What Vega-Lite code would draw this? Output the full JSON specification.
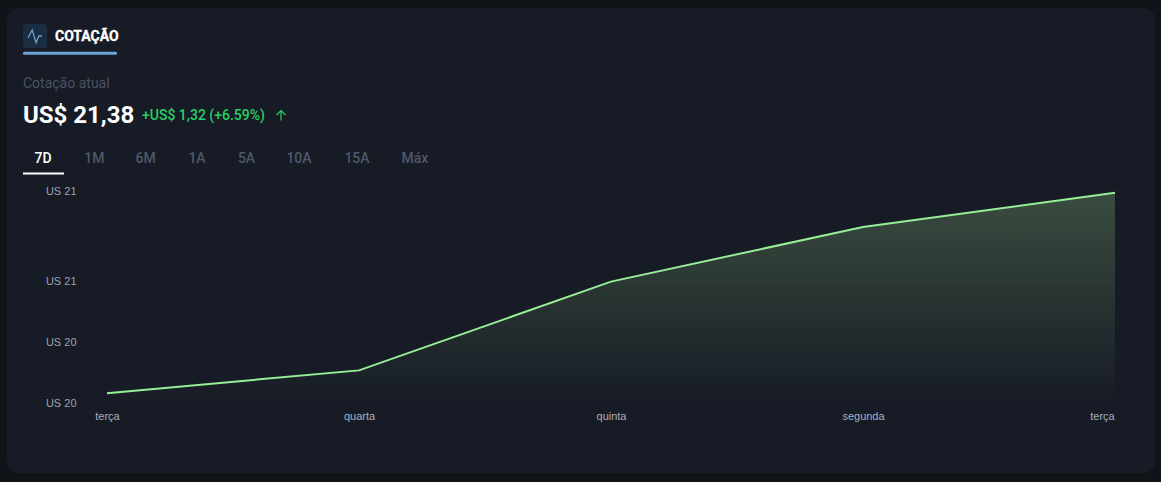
{"$schema":"https://vega.github.io/schema/vega-lite/v6.json","width":1148,"height":465,"autosize":"none","padding":{"left":7,"top":8,"right":6,"bottom":9},"background":"#101317","config":{"view":{"fill":"#171b25","stroke":null,"cornerRadius":12},"text":{"font":"Roboto"}},"resolve":{"scale":{"x":"independent","y":"independent"}},"layer":[
{"layer":[
{"data":{"values":[{"nivel":20},{"nivel":20.4},{"nivel":20.8},{"nivel":21.45}]},"mark":{"type":"rule","stroke":"#ffffff","strokeOpacity":0.035,"strokeDash":[3,3],"strokeWidth":1},"encoding":{"x":{"datum":"terça (1)"},"x2":{"datum":"terça (2)"},"y":{"field":"nivel","type":"quantitative"}}},
{"data":{"name":"cotacao"},"mark":{"type":"area","color":{"gradient":"linear","x1":0,"y1":0,"x2":0,"y2":1,"stops":[{"offset":0,"color":"rgba(175,238,150,0.23)"},{"offset":1,"color":"rgba(175,238,150,0)"}]}},"encoding":{"x":{"field":"dia","type":"nominal"},"y":{"field":"preco","type":"quantitative"},"y2":{"datum":20}}},
{"data":{"name":"cotacao"},"mark":{"type":"line","stroke":"#96ee96","strokeWidth":2},"encoding":{"x":{"field":"dia","type":"nominal","sort":null,"title":null,"scale":{"type":"point","domain":["terça (1)","quarta","quinta","segunda","terça (2)"],"range":[100,1108],"padding":0},"axis":{"orient":"bottom","offset":-63,"domain":false,"ticks":false,"grid":false,"labelPadding":0,"labelAngle":0,"labelAlign":"center","labelFont":"Liberation Sans","labelFontSize":11,"labelColor":"#a9b0ba","labelBaseline":"top","labelExpr":"split(datum.label,' ')[0]","labelOverlap":false,"labelOffset":{"condition":{"test":"datum.value==='terça (2)'","value":-13},"value":0}}},"y":{"field":"preco","type":"quantitative","title":null,"scale":{"domain":[20,21.45],"range":[395,175],"zero":false,"nice":false},"axis":{"orient":"left","offset":-69,"domain":false,"ticks":false,"grid":false,"labelPadding":0,"values":[20,20.4,20.8,21.45],"labelFont":"Liberation Sans","labelFontSize":11,"labelColor":"#9ca3af","labelOverlap":false,"labelExpr":"'US ' + format(datum.value,'.0f')","labelOffset":{"condition":{"test":"datum.value>21.4","value":8},"value":0}}}}}
]},
{"data":{"values":[{"elemento":"fundo do ícone"}]},"mark":{"type":"point","shape":"M-0.7,-1L0.7,-1Q1,-1 1,-0.7L1,0.7Q1,1 0.7,1L-0.7,1Q-1,1 -1,0.7L-1,-0.7Q-1,-1 -0.7,-1Z","size":576,"filled":true,"fill":"#1b2d42","opacity":1,"stroke":null},"encoding":{"x":{"field":"elemento","type":"nominal","axis":null,"scale":{"type":"point","range":[28,28],"padding":0}},"y":{"field":"elemento","type":"nominal","axis":null,"scale":{"type":"point","range":[28,28],"padding":0}}}},
{"data":{"values":[{"elemento":"pulso"}]},"mark":{"type":"point","shape":"M-1,0.25L-0.4,-0.85L0.15,0.95L0.55,0L1,0","size":196,"filled":false,"stroke":"#6fa3d0","strokeWidth":1.3,"opacity":1},"encoding":{"x":{"field":"elemento","type":"nominal","axis":null,"scale":{"type":"point","range":[28,28],"padding":0}},"y":{"field":"elemento","type":"nominal","axis":null,"scale":{"type":"point","range":[28,28],"padding":0}}}},
{"data":{"values":[{"elemento":"sublinhado da aba"}]},"mark":{"type":"point","shape":"M-0.98,-0.032L0.98,-0.032Q1,-0.032 1,0L1,0Q1,0.032 0.98,0.032L-0.98,0.032Q-1,0.032 -1,0Q-1,-0.032 -0.98,-0.032Z","size":8836,"filled":true,"fill":"#6ea4d8","opacity":1,"stroke":null},"encoding":{"x":{"field":"elemento","type":"nominal","axis":null,"scale":{"type":"point","range":[63,63],"padding":0}},"y":{"field":"elemento","type":"nominal","axis":null,"scale":{"type":"point","range":[45.3,45.3],"padding":0}}}},
{"data":{"values":[{"elemento":"sublinhado do período"}]},"mark":{"type":"point","shape":"M-1,-0.05L1,-0.05L1,0.05L-1,0.05Z","size":1681,"filled":true,"fill":"#ffffff","opacity":1,"stroke":null},"encoding":{"x":{"field":"elemento","type":"nominal","axis":null,"scale":{"type":"point","range":[36.5,36.5],"padding":0}},"y":{"field":"elemento","type":"nominal","axis":null,"scale":{"type":"point","range":[165.5,165.5],"padding":0}}}},
{"data":{"values":[{"elemento":"seta"}]},"mark":{"type":"point","shape":"M0,1L0,-1M-0.9,-0.1L0,-1L0.9,-0.1","size":100,"filled":false,"stroke":"#28d065","strokeWidth":1.2,"opacity":1},"encoding":{"x":{"field":"elemento","type":"nominal","axis":null,"scale":{"type":"point","range":[274,274],"padding":0}},"y":{"field":"elemento","type":"nominal","axis":null,"scale":{"type":"point","range":[107.5,107.5],"padding":0}}}},
{"data":{"values":[{"texto":"COTAÇÃO"}]},"mark":{"type":"text","align":"left","baseline":"middle","font":"Roboto","fontSize":14,"fontWeight":"bold","fill":"#ffffff","stroke":"#ffffff","strokeWidth":0.3},"encoding":{"text":{"field":"texto"},"x":{"field":"texto","type":"nominal","axis":null,"scale":{"type":"point","range":[48,48],"padding":0}},"y":{"field":"texto","type":"nominal","axis":null,"scale":{"type":"point","range":[28.5,28.5],"padding":0}}}},
{"data":{"values":[{"texto":"Cotação atual"}]},"mark":{"type":"text","align":"left","baseline":"middle","font":"Roboto","fontSize":14,"fill":"#4a5263"},"encoding":{"text":{"field":"texto"},"x":{"field":"texto","type":"nominal","axis":null,"scale":{"type":"point","range":[16,16],"padding":0}},"y":{"field":"texto","type":"nominal","axis":null,"scale":{"type":"point","range":[76,76],"padding":0}}}},
{"data":{"values":[{"texto":"US$ 21,38"}]},"mark":{"type":"text","align":"left","baseline":"middle","font":"Roboto","fontSize":24,"fontWeight":"bold","fill":"#ffffff"},"encoding":{"text":{"field":"texto"},"x":{"field":"texto","type":"nominal","axis":null,"scale":{"type":"point","range":[16,16],"padding":0}},"y":{"field":"texto","type":"nominal","axis":null,"scale":{"type":"point","range":[108,108],"padding":0}}}},
{"data":{"values":[{"texto":"+US$ 1,32 (+6.59%)"}]},"mark":{"type":"text","align":"left","baseline":"middle","font":"Roboto","fontSize":14,"fontWeight":500,"fill":"#28d065"},"encoding":{"text":{"field":"texto"},"x":{"field":"texto","type":"nominal","axis":null,"scale":{"type":"point","range":[135,135],"padding":0}},"y":{"field":"texto","type":"nominal","axis":null,"scale":{"type":"point","range":[107.5,107.5],"padding":0}}}},
{"data":{"values":[{"periodo":"7D"},{"periodo":"1M"},{"periodo":"6M"},{"periodo":"1A"}]},"mark":{"type":"text","align":"center","baseline":"middle","font":"Roboto","fontSize":14,"fontWeight":500},"encoding":{"text":{"field":"periodo"},"color":{"condition":{"test":"datum.periodo==='7D'","value":"#ffffff"},"value":"#4d586c"},"x":{"field":"periodo","type":"nominal","sort":null,"axis":null,"scale":{"type":"point","domain":["7D","1M","6M","1A"],"range":[36,190],"padding":0}},"y":{"datum":"abas","type":"nominal","axis":null,"scale":{"type":"point","domain":["abas"],"range":[151,151],"padding":0}}}},
{"data":{"values":[{"periodo":"5A"}]},"mark":{"type":"text","align":"center","baseline":"middle","font":"Roboto","fontSize":14,"fontWeight":500,"fill":"#4d586c"},"encoding":{"text":{"field":"periodo"},"x":{"field":"periodo","type":"nominal","axis":null,"scale":{"type":"point","range":[239.5,239.5],"padding":0}},"y":{"datum":"abas","type":"nominal","axis":null,"scale":{"type":"point","domain":["abas"],"range":[151,151],"padding":0}}}},
{"data":{"values":[{"periodo":"10A"},{"periodo":"15A"},{"periodo":"Máx"}]},"mark":{"type":"text","align":"center","baseline":"middle","font":"Roboto","fontSize":14,"fontWeight":500,"fill":"#4d586c"},"encoding":{"text":{"field":"periodo"},"x":{"field":"periodo","type":"nominal","sort":null,"axis":null,"scale":{"type":"point","domain":["10A","15A","Máx"],"range":[292,408],"padding":0}},"y":{"datum":"abas","type":"nominal","axis":null,"scale":{"type":"point","domain":["abas"],"range":[151,151],"padding":0}}}}
],"datasets":{"cotacao":[{"dia":"terça (1)","preco":20.065},{"dia":"quarta","preco":20.215},{"dia":"quinta","preco":20.8},{"dia":"segunda","preco":21.16},{"dia":"terça (2)","preco":21.385}]}}
